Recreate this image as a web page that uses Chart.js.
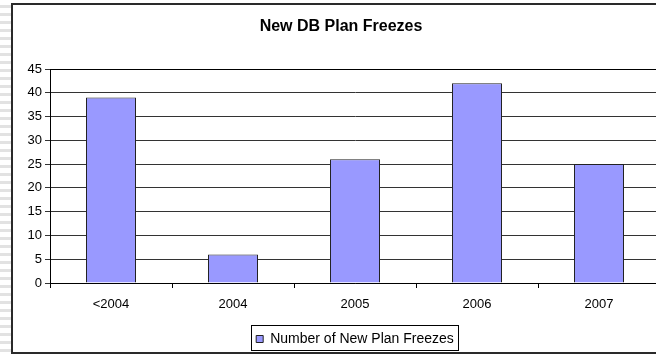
<!DOCTYPE html>
<html>
<head>
<meta charset="utf-8">
<script src="https://cdn.jsdelivr.net/npm/chart.js@4/dist/chart.umd.min.js"></script>
<style>
  html, body { margin: 0; padding: 0; width: 656px; height: 354px; overflow: hidden; background: #fff; }
  #strip { position: absolute; left: 0; top: 0; width: 11px; height: 354px;
    background: repeating-linear-gradient(to bottom, #ffffff 0px, #ffffff 5px, #e2e2e2 5px, #e2e2e2 8px); }
  #frame { position: absolute; left: 11px; top: 3px; width: 720px; height: 351px; box-sizing: border-box;
    border: 2px solid #2a2a2a; border-right: none; background: #fff; }
  #wrap { position: absolute; left: 0; top: 0; width: 680px; height: 356px; }
</style>
</head>
<body>
<div id="strip"></div>
<div id="frame"></div>
<div id="wrap"><canvas id="c" width="680" height="356"></canvas></div>
<script>
const categories = ["<2004", "2004", "2005", "2006", "2007"];
const freezes = [39, 6, 26, 42, 25];
const seriesName = "Number of New Plan Freezes";
const yTicks = [0, 5, 10, 15, 20, 25, 30, 35, 40, 45];

const FONT = "'Liberation Sans', Arial, sans-serif";

const framePlugin = {
  id: 'framePlugin',
  afterDraw(chart) {
    const ctx = chart.ctx;
    const a = chart.chartArea;
    ctx.save();
    ctx.strokeStyle = '#000';
    ctx.lineWidth = 1;
    ctx.beginPath();
    ctx.moveTo(a.left, Math.round(a.top) + 0.5);
    ctx.lineTo(a.right, Math.round(a.top) + 0.5);
    ctx.stroke();
    const lg = chart.legend;
    if (lg && lg.legendHitBoxes && lg.legendHitBoxes.length) {
      const hb = lg.legendHitBoxes[0];
      const x0 = Math.round(hb.left - 5) + 0.5;
      const y0 = Math.round(hb.top - 7) + 0.5;
      const w = Math.round(hb.width + 9);
      const h = Math.round(hb.height + 11);
      ctx.strokeStyle = '#000';
      ctx.strokeRect(x0, y0, w, h);
    }
    ctx.restore();
  }
};

new Chart(document.getElementById('c'), {
  type: 'bar',
  data: {
    labels: categories,
    datasets: [{
      label: seriesName,
      data: freezes,
      backgroundColor: '#9999FF',
      borderColor: '#222222',
      borderWidth: 1,
      categoryPercentage: 1.0,
      barPercentage: 0.41
    }]
  },
  options: {
    responsive: false,
    animation: false,
    devicePixelRatio: 1,
    layout: { padding: { left: 22, right: 20, top: 0, bottom: 0 } },
    plugins: {
      tooltip: { enabled: false },
      title: {
        display: true,
        text: 'New DB Plan Freezes',
        color: '#000',
        font: { family: FONT, size: 16, weight: 'bold', lineHeight: 1.2 },
        padding: { top: 17, bottom: 32.8 }
      },
      legend: {
        display: true,
        position: 'bottom',
        fullSize: false,
        labels: {
          color: '#000',
          font: { family: FONT, size: 14 },
          boxWidth: 7,
          boxHeight: 7,
          padding: 19
        }
      }
    },
    scales: {
      x: {
        afterFit(scale) { scale.height = 30; },
        grid: { display: true, drawOnChartArea: false, drawTicks: true, tickLength: 5, color: '#000', offset: true },
        border: { display: true, color: '#000', width: 1 },
        ticks: { color: '#000', font: { family: FONT, size: 13 }, padding: 9 }
      },
      y: {
        min: 0,
        max: 45,
        afterFit(scale) { scale.width = 28; },
        afterBuildTicks(scale) { scale.ticks = yTicks.map(v => ({ value: v })); },
        grid: { display: true, drawOnChartArea: true, drawTicks: true, tickLength: 5, color: '#333' },
        border: { display: true, color: '#000', width: 1 },
        ticks: { color: '#000', font: { family: FONT, size: 13 }, padding: 3 }
      }
    }
  },
  plugins: [framePlugin]
});
</script>
</body>
</html>
